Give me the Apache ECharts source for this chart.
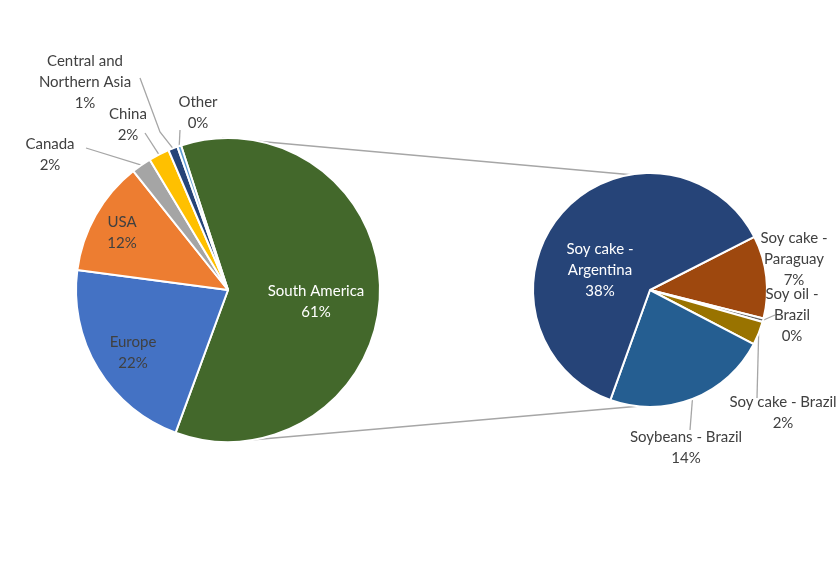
<!DOCTYPE html>
<html><head><meta charset="utf-8">
<script src="https://cdn.jsdelivr.net/npm/echarts@6/dist/echarts.min.js"></script>
<style>html,body{margin:0;background:#fff}#c{width:839px;height:581px}</style>
</head><body><div id="c"></div>
<script>
const mainNames = ['South America','Europe','USA','Canada','China','Central and\nNorthern Asia','Other'];
const mainValues = [60.6,21.5,12.2,2.1,2.2,1.0,0.4];
const mainLabels = ['61%','22%','12%','2%','2%','1%','0%'];
const mainColors = ['#43682b','#4472c4','#ed7d31','#a5a5a5','#ffc000','#264478','#5b9bd5'];
const subNames = ['Soy cake -\nParaguay','Soy oil -\nBrazil','Soy cake - Brazil','Soybeans - Brazil','Soy cake -\nArgentina'];
const subValues = [7,0.3,2,14,38];
const subLabels = ['7%','0%','2%','14%','38%'];
const subColors = ['#9e480e','#636363','#997300','#255e91','#264478'];

const chart = echarts.init(document.getElementById('c'));
const font = 'Lato, Open Sans, sans-serif';
const inside = [true,true,true,false,false,false,false];
const mainData = mainNames.map((n,i)=>({name:n,value:mainValues[i],pct:mainLabels[i],
  itemStyle:{color:mainColors[i]},
  label:{position: inside[i]?'inside':'outside', color: i===0?'#fff':'#404040'},
  labelLine:{show:!inside[i]}}));
const subInside = [false,false,false,false,true];
const subData = subNames.map((n,i)=>({name:n,value:subValues[i],pct:subLabels[i],
  itemStyle:{color:subColors[i]},
  label:{position: subInside[i]?'inside':'outside', color: i===4?'#fff':'#404040'},
  labelLine:{show:!subInside[i]}}));
const fmt = p => p.name + '\n' + p.data.pct;
const outPos = {
  'South America':[316,302],'Europe':[133,353],'USA':[122,233],
  'Canada':[50,155],'China':[128,125],'Central and\nNorthern Asia':[85,82],'Other':[198,113],
  'Soy cake -\nArgentina':[600,270],
  'Soy cake -\nParaguay':[794,259],'Soy oil -\nBrazil':[792,315],'Soy cake - Brazil':[783,413],'Soybeans - Brazil':[686,448]
};
const lineEnd = {
  'Canada':[86,148],'China':[145,133],'Central and\nNorthern Asia':[160,78],'Other':[180,130],
  'Soy cake -\nParaguay':[762,270],'Soy oil -\nBrazil':[775,315],'Soy cake - Brazil':[757,398],'Soybeans - Brazil':[690,430]
};
function mkLayout(names){
  return function(params){
    const name = names[params.dataIndex];
    const pos = outPos[name];
    if(!pos) return {};
    const pts = params.labelLinePoints;
    const res = {x:pos[0], y:pos[1], align:'center', verticalAlign:'middle'};
    if(pts && lineEnd[name]){
      const e = lineEnd[name];
      const mid = name==='Central and\nNorthern Asia'?[160,132]:e;
      const end = name==='Central and\nNorthern Asia'?[140,78]:e;
      res.labelLinePoints = [pts[0], mid, end];
    }
    return res;
  };
}
const lbl = {formatter:fmt,fontFamily:font,fontSize:15,lineHeight:21,color:'#404040',overflow:'none',width:300};
chart.setOption({
  animation:false,
  graphic:[
    {type:'line',shape:{x1:222,y1:138,x2:656,y2:177},style:{stroke:'#a6a6a6',lineWidth:1.3},z:0},
    {type:'line',shape:{x1:228,y1:442,x2:652,y2:405},style:{stroke:'#a6a6a6',lineWidth:1.3},z:0}
  ],
  series:[
    {type:'pie',center:[228,290],radius:152,startAngle:108,clockwise:true,data:mainData,
     itemStyle:{borderColor:'#fff',borderWidth:2},label:lbl,
     labelLine:{lineStyle:{color:'#a6a6a6',width:1.3},length:10,length2:10},
     labelLayout:mkLayout(mainNames)},
    {type:'pie',center:[650,290],radius:117,startAngle:27,clockwise:true,data:subData,
     itemStyle:{borderColor:'#fff',borderWidth:2},label:lbl,
     labelLine:{lineStyle:{color:'#a6a6a6',width:1.3},length:10,length2:10},
     labelLayout:mkLayout(subNames)}
  ]
});
</script></body></html>
